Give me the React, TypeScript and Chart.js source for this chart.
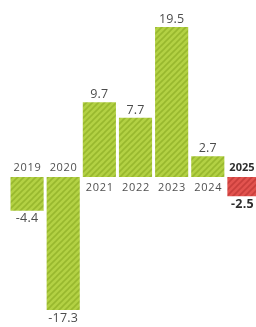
import React, { useEffect, useRef } from "react";
import { Chart, registerables } from "chart.js";

Chart.register(...registerables);

const years = ["2019", "2020", "2021", "2022", "2023", "2024", "2025"];
const values = [-4.4, -17.3, 9.7, 7.7, 19.5, 2.7, -2.5];
const highlight = [false, false, false, false, false, false, true];

function makePattern(base: string, line: string) {
  const c = document.createElement("canvas");
  const s = 6;
  c.width = s;
  c.height = s;
  const g = c.getContext("2d")!;
  g.fillStyle = base;
  g.fillRect(0, 0, s, s);
  g.strokeStyle = line;
  g.lineWidth = 1.6;
  g.beginPath();
  g.moveTo(-1, s + 1);
  g.lineTo(s + 1, -1);
  g.moveTo(-1, 1);
  g.lineTo(1, -1);
  g.moveTo(s - 1, s + 1);
  g.lineTo(s + 1, s - 1);
  g.stroke();
  return g.createPattern(c, "repeat")!;
}

const labelPlugin = {
  id: "labels",
  afterDatasetsDraw(chart: any) {
    const ctx = chart.ctx;
    const meta = chart.getDatasetMeta(0);
    const y0 = chart.scales.y.getPixelForValue(0);
    ctx.save();
    ctx.textAlign = "center";
    ctx.textBaseline = "middle";
    meta.data.forEach((bar: any, i: number) => {
      const v = values[i];
      const hl = highlight[i];
      const x = bar.x;
      ctx.fillStyle = hl ? "#2e2e2e" : "#4c4c4c";
      ctx.font = (hl ? "bold " : "") + "12.5px 'Open Sans'";
      (ctx as any).letterSpacing = "0.2px";
      const vt = v.toFixed(1);
      if (v >= 0) ctx.fillText(vt, x, bar.y - 7.5);
      else ctx.fillText(vt, x - (hl ? 1.5 : 0), bar.y + 8);
      ctx.font = (hl ? "bold " : "") + "11px 'Open Sans'";
      (ctx as any).letterSpacing = hl ? "0px" : "0.7px";
      ctx.fillStyle = hl ? "#2e2e2e" : "#505050";
      const xx = hl ? x - 2 : x + 0.4;
      if (v >= 0) ctx.fillText(years[i], xx, y0 + 11);
      else ctx.fillText(years[i], xx, y0 - 9);
    });
    ctx.restore();
  },
};

export default function App() {
  const ref = useRef<HTMLCanvasElement>(null);
  useEffect(() => {
    const green = makePattern("#b3d144", "#98b82e");
    const red = makePattern("#e2534f", "#c83f3c");
    const chart = new Chart(ref.current!, {
      type: "bar",
      data: {
        labels: years,
        datasets: [
          {
            data: values,
            backgroundColor: highlight.map((h) => (h ? red : green)) as any,
            borderWidth: 0,
            categoryPercentage: 1,
            barPercentage: 0.917,
          },
        ],
      },
      options: {
        animation: false,
        responsive: false,
        maintainAspectRatio: false,
        layout: { padding: 0 },
        plugins: { legend: { display: false }, tooltip: { enabled: false } },
        scales: {
          x: { display: false, offset: true },
          y: { display: false, min: -19.5, max: 23 },
        },
      },
      plugins: [labelPlugin],
    });
    return () => chart.destroy();
  }, []);
  return (
    <div
      style={{
        position: "fixed",
        left: 0,
        top: 0,
        width: 256,
        height: 327,
        overflow: "hidden",
        background: "#fff",
      }}
    >
      <canvas
        ref={ref}
        width={253}
        height={327}
        style={{ position: "absolute", left: 8.5, top: 0, width: 253, height: 327 }}
      />
    </div>
  );
}
